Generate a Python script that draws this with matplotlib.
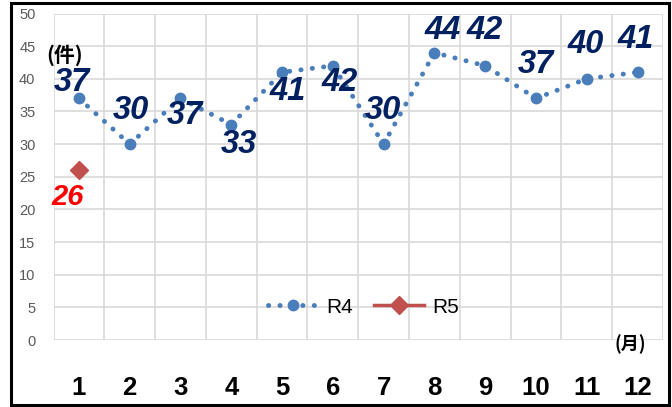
import matplotlib
matplotlib.use('Agg')
import matplotlib.pyplot as plt
from matplotlib.patches import Rectangle

plt.rcParams['font.family'] = ['Liberation Sans', 'Noto Sans CJK JP', 'DejaVu Sans']

months = [1, 2, 3, 4, 5, 6, 7, 8, 9, 10, 11, 12]
r4 = [37, 30, 37, 33, 41, 42, 30, 44, 42, 37, 40, 41]
r5_months = [1]
r5 = [26]

# label offsets in pixels (dx, dy up) - placed by hand like in the original
r4_offsets = [(-7, 16), (1, 34), (4, -17), (8, -20), (6, -19), (7, -17),
              (-1, 34), (8, 22), (-1, 35), (0, 34), (-1, 34), (-2, 33)]
r5_offsets = [(-11, -27)]

blue = '#4A7EBB'
red = '#C0504D'
navy = '#002060'

fig = plt.figure(figsize=(6.72, 4.07), dpi=100)
ax = fig.add_axes([53.5/672, 1-340/407, (663-53.5)/672, (340-13.5)/407])

ax.plot(months, r4, color=blue, linestyle=(0, (0.05, 2.3)), linewidth=3.5,
        dash_capstyle='round', marker='o', markersize=7.5, label='R4', zorder=3)
ax.plot(r5_months, r5, color=red, linestyle='-', linewidth=2.5,
        marker='D', markersize=9, label='R5', zorder=3)

for m, v, (dx, dy) in zip(months, r4, r4_offsets):
    ax.annotate(str(v), (m, v), xytext=(dx, dy), textcoords='offset pixels',
                ha='center', va='center', fontsize=23.5, fontweight='bold',
                fontstyle='italic', color=navy, zorder=4)
for m, v, (dx, dy) in zip(r5_months, r5, r5_offsets):
    ax.annotate(str(v), (m, v), xytext=(dx, dy), textcoords='offset pixels',
                ha='center', va='center', fontsize=21, fontweight='bold',
                fontstyle='italic', color='#FF0000', zorder=4)

ax.set_xlim(0.5, 12.5)
ax.set_ylim(0, 50)
ax.set_xticks(months)
ax.set_xticklabels([str(m) for m in months], fontsize=18.5, fontweight='bold')
ax.set_xticks([m + 0.5 for m in [0] + months], minor=True)
ax.set_yticks(range(0, 51, 5))
ax.tick_params(axis='x', which='both', length=0, pad=26)
ax.tick_params(axis='y', length=0, pad=13, labelsize=10.5, labelcolor='#595959')
ax.grid(axis='x', which='minor', color='#D9D9D9', linewidth=1.2)
ax.grid(axis='y', which='major', color='#D9D9D9', linewidth=1.2)
ax.set_axisbelow(True)
for s in ax.spines.values():
    s.set_visible(False)

ax.legend(loc='center', bbox_to_anchor=(0.508, 0.101), ncol=2, frameon=False,
          fontsize=15, handlelength=2.4, columnspacing=1.0, handletextpad=0.4)

fig.text(65/672, 1-55/407, '(件)', fontsize=15, ha='center', va='center',
         family=['Noto Sans CJK JP'], fontweight='bold')
fig.text(630/672, 1-344/407, '(月)', fontsize=13, ha='center', va='center',
         family=['Noto Sans CJK JP'], fontweight='bold')

fig.patches.append(Rectangle((10.5/672, 1-405/407), (669-10.5)/672, (405-3)/407,
                             transform=fig.transFigure, fill=False,
                             edgecolor='black', linewidth=2.2))

fig.savefig('out.png', dpi=100)
